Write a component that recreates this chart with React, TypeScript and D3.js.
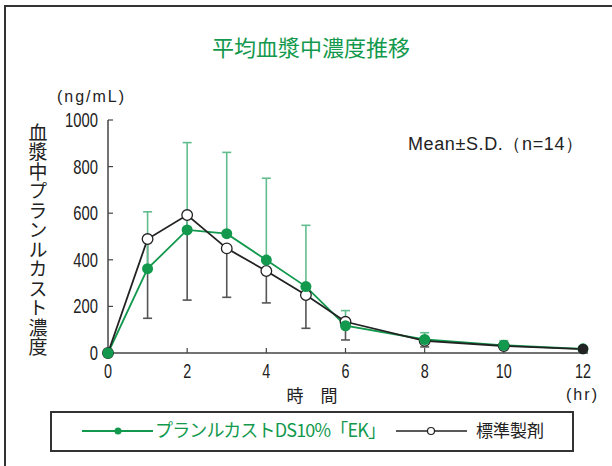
import React, { useRef, useEffect } from 'react';
import * as d3 from 'd3';

// time points (hr)
const times = [0, 1, 2, 3, 4, 5, 6, 8, 10, 12];
// プランルカストDS10%「EK」
const testMean = [0, 362, 528, 512, 399, 285, 117, 58, 33, 18];
const testSD = [0, 244, 375, 349, 351, 263, 65, 29, 20, 8];
// 標準製剤
const refMean = [0, 489, 592, 449, 352, 249, 134, 52, 30, 17];
const refSD = [0, 340, 365, 210, 137, 143, 78, 26, 8, 5];

const xTicks = [0, 2, 4, 6, 8, 10, 12];
const yTicks = [0, 200, 400, 600, 800, 1000];

const GREEN = '#12994d';
const GREEN_LIGHT = '#62bd8e';
const DARK = '#222';
const GRAY = '#555';
const NUM_FONT = "'Liberation Sans', Arial, sans-serif";
const JP_FONT = "'Noto Sans CJK JP', sans-serif";

function App(): React.ReactElement {
  const svgRef = useRef<SVGSVGElement | null>(null);

  useEffect(() => {
    const svg = d3.select(svgRef.current);
    svg.selectAll('*').remove();

    const x = d3.scaleLinear().domain([0, 12]).range([108, 583]);
    const y = d3.scaleLinear().domain([0, 1000]).range([353, 120]);

    // outer frame
    svg.append('path')
      .attr('d', 'M5,466 L5,6 L612,6')
      .attr('fill', 'none')
      .attr('stroke', '#333')
      .attr('stroke-width', 2);

    svg.append('text')
      .attr('x', 311).attr('y', 56)
      .attr('text-anchor', 'middle')
      .attr('font-family', JP_FONT)
      .attr('font-size', 22)
      .attr('fill', GREEN)
      .text('平均血漿中濃度推移');

    svg.append('text')
      .attr('x', 57).attr('y', 102)
      .attr('font-family', NUM_FONT)
      .attr('font-size', 16)
      .attr('fill', DARK)
      .attr('textLength', 67)
      .text('(ng/mL)');

    // y axis title, vertical
    svg.append('text')
      .attr('x', 38).attr('y', 123)
      .attr('font-family', JP_FONT)
      .attr('font-size', 19)
      .attr('fill', DARK)
      .style('writing-mode', 'vertical-rl')
      .style('text-orientation', 'upright')
      .style('letter-spacing', '0.5px')
      .text('血漿中プランルカスト濃度');

    // axes
    const axisG = svg.append('g');
    axisG.append('line')
      .attr('x1', x(0)).attr('x2', 588)
      .attr('y1', y(0)).attr('y2', y(0))
      .attr('stroke', '#444').attr('stroke-width', 1.5);
    axisG.append('line')
      .attr('x1', x(0)).attr('x2', x(0))
      .attr('y1', y(0)).attr('y2', y(1000))
      .attr('stroke', '#444').attr('stroke-width', 1.5);

    axisG.selectAll('.yt')
      .data(yTicks)
      .enter()
      .append('line')
      .attr('x1', x(0)).attr('x2', x(0) + 5)
      .attr('y1', (d) => y(d)).attr('y2', (d) => y(d))
      .attr('stroke', '#444').attr('stroke-width', 1.2);

    // condensed digits, as in the original
    axisG.selectAll('.yl')
      .data(yTicks)
      .enter()
      .append('text')
      .attr('transform', (d) => `translate(98,${y(d) + 7}) scale(0.74,1)`)
      .attr('text-anchor', 'end')
      .attr('font-family', NUM_FONT)
      .attr('font-size', 20)
      .attr('fill', DARK)
      .text((d) => d);

    axisG.selectAll('.xt')
      .data(xTicks.slice(1))
      .enter()
      .append('line')
      .attr('x1', (d) => x(d)).attr('x2', (d) => x(d))
      .attr('y1', y(0)).attr('y2', y(0) - 5)
      .attr('stroke', '#444').attr('stroke-width', 1.2);

    axisG.selectAll('.xl')
      .data(xTicks)
      .enter()
      .append('text')
      .attr('transform', (d) => `translate(${x(d)},378) scale(0.72,1)`)
      .attr('text-anchor', 'middle')
      .attr('font-family', NUM_FONT)
      .attr('font-size', 20)
      .attr('fill', DARK)
      .text((d) => d);

    svg.append('text')
      .attr('x', 312).attr('y', 402)
      .attr('text-anchor', 'middle')
      .attr('font-family', JP_FONT)
      .attr('font-size', 17)
      .attr('fill', DARK)
      .attr('xml:space', 'preserve')
      .text('時　間');

    svg.append('text')
      .attr('x', 566).attr('y', 400)
      .attr('font-family', NUM_FONT)
      .attr('font-size', 16)
      .attr('fill', DARK)
      .attr('textLength', 31)
      .text('(hr)');

    svg.append('text')
      .attr('x', 408).attr('y', 150)
      .attr('font-family', NUM_FONT)
      .attr('font-size', 18)
      .attr('fill', DARK)
      .attr('textLength', 175)
      .text('Mean±S.D.（n=14）');

    // error bars
    const cap = 4.5;
    const testIdx = times.map((_t, i) => i).filter((i) => testSD[i] > 0);
    const refIdx = times.map((_t, i) => i).filter((i) => refSD[i] > 0);

    const refErr = svg.append('g').attr('stroke', GRAY).attr('stroke-width', 1.6);
    refIdx.forEach((i) => {
      const px = x(times[i]);
      const lo = y(refMean[i] - refSD[i]);
      refErr.append('line').attr('x1', px).attr('x2', px)
        .attr('y1', y(refMean[i])).attr('y2', lo);
      refErr.append('line').attr('x1', px - cap).attr('x2', px + cap)
        .attr('y1', lo).attr('y2', lo);
    });

    const testErr = svg.append('g').attr('stroke', GREEN_LIGHT).attr('stroke-width', 1.6);
    testIdx.forEach((i) => {
      const px = x(times[i]);
      const hi = y(testMean[i] + testSD[i]);
      testErr.append('line').attr('x1', px).attr('x2', px)
        .attr('y1', y(testMean[i])).attr('y2', hi);
      testErr.append('line').attr('x1', px - cap).attr('x2', px + cap)
        .attr('y1', hi).attr('y2', hi);
    });

    const line = d3.line<number>()
      .x((_d, i) => x(times[i]))
      .y((d) => y(d));

    svg.append('path')
      .attr('d', line(testMean))
      .attr('fill', 'none')
      .attr('stroke', GREEN)
      .attr('stroke-width', 1.8);

    svg.append('path')
      .attr('d', line(refMean))
      .attr('fill', 'none')
      .attr('stroke', DARK)
      .attr('stroke-width', 1.8);

    svg.append('g')
      .selectAll('circle')
      .data(refMean.slice(0, -1))
      .enter()
      .append('circle')
      .attr('cx', (_d, i) => x(times[i]))
      .attr('cy', (d) => y(d))
      .attr('r', 5.3)
      .attr('fill', '#fff')
      .attr('stroke', DARK)
      .attr('stroke-width', 1.3);

    svg.append('g')
      .selectAll('circle')
      .data(testMean)
      .enter()
      .append('circle')
      .attr('cx', (_d, i) => x(times[i]))
      .attr('cy', (d) => y(d))
      .attr('r', 5.5)
      .attr('fill', GREEN);

    // last reference point is drawn filled on top
    const last = refMean.length - 1;
    svg.append('circle')
      .attr('cx', x(times[last]))
      .attr('cy', y(refMean[last]))
      .attr('r', 5.3)
      .attr('fill', DARK);

    // legend
    const lg = svg.append('g');
    lg.append('rect')
      .attr('x', 51).attr('y', 412)
      .attr('width', 522).attr('height', 39)
      .attr('fill', '#fff')
      .attr('stroke', '#333')
      .attr('stroke-width', 2);
    lg.append('line')
      .attr('x1', 82).attr('x2', 153).attr('y1', 431).attr('y2', 431)
      .attr('stroke', GREEN).attr('stroke-width', 1.8);
    lg.append('circle')
      .attr('cx', 118).attr('cy', 431).attr('r', 3.5)
      .attr('fill', GREEN);
    lg.append('text')
      .attr('x', 155).attr('y', 437)
      .attr('font-family', JP_FONT)
      .attr('font-size', 18)
      .attr('fill', GREEN)
      .attr('textLength', 231)
      .text('プランルカストDS10%「EK」');
    lg.append('line')
      .attr('x1', 396).attr('x2', 467).attr('y1', 431).attr('y2', 431)
      .attr('stroke', DARK).attr('stroke-width', 1.6);
    lg.append('circle')
      .attr('cx', 431).attr('cy', 431).attr('r', 3.5)
      .attr('fill', '#fff').attr('stroke', DARK).attr('stroke-width', 1.2);
    lg.append('text')
      .attr('x', 476).attr('y', 437)
      .attr('font-family', JP_FONT)
      .attr('font-size', 17)
      .attr('fill', DARK)
      .text('標準製剤');
  }, []);

  return (
    <svg
      ref={svgRef}
      width={612}
      height={466}
      style={{ position: 'absolute', left: 0, top: 0, background: '#fff' }}
    />
  );
}

export default App;
